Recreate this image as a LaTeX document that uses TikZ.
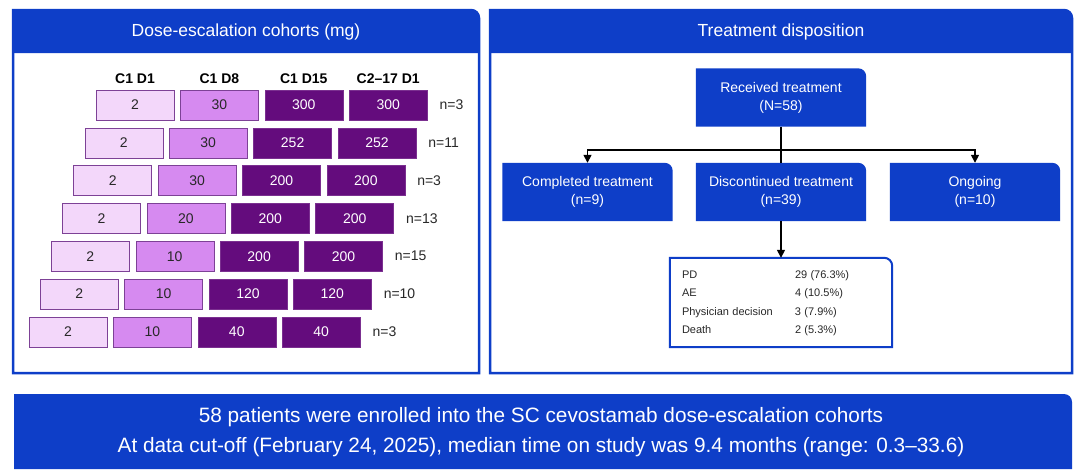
\documentclass[tikz,border=0pt]{standalone}
\usepackage{fontspec}
\setmainfont{Liberation Sans}
\usetikzlibrary{positioning,arrows.meta,backgrounds}

\definecolor{panelblue}{RGB}{14,62,200}
\definecolor{doseA}{RGB}{243,215,250}
\definecolor{doseB}{RGB}{214,138,240}
\definecolor{doseC}{RGB}{100,12,125}
\definecolor{doseline}{RGB}{125,65,150}
\definecolor{inktext}{RGB}{40,40,40}

% shape with only the top right corner rounded
\newcommand{\tabpath}[5]{\path[#1] (#2,#5) -- (#2,#3) -- ([xshift=-8pt]#4,#3) arc[start angle=90,end angle=0,radius=8pt] -- (#4,#5) -- cycle;}
\newcommand{\tabnode}[2]{\path[#2] (#1.south west) -- (#1.north west) -- ([xshift=-8pt]#1.north east) arc[start angle=90,end angle=0,radius=8pt] -- (#1.south east) -- cycle;}

\tikzset{
  doseA/.style={draw=doseline,fill=doseA,text=inktext,minimum width=78pt,minimum height=30pt,inner sep=0pt,font=\fontsize{14}{16}\selectfont},
  doseB/.style={doseA,fill=doseB},
  doseC/.style={doseA,draw=doseC!85!white,fill=doseC,text=white},
  cohortn/.style={text=inktext,inner sep=0pt,anchor=west,font=\fontsize{14}{16}\selectfont},
  colhead/.style={font=\fontsize{14}{16}\selectfont\bfseries},
  paneltitle/.style={text=white,font=\fontsize{17.5}{20}\selectfont},
  flowbox/.style={text=white,minimum width=170pt,minimum height=58pt,inner sep=0pt,align=center,font=\fontsize{14}{18}\selectfont},
  flowline/.style={line width=1.5pt},
}

\begin{document}
\begin{tikzpicture}[x=1pt,y=-1pt]
\useasboundingbox (0,0) rectangle (1080,471);

% left panel: doses
\node[paneltitle] (dtitle) at (246,32) {Dose-escalation cohorts (mg)};
\foreach \d/\e/\f/\n [count=\i from 0] in {30/300/300/3,30/252/252/11,30/200/200/3,20/200/200/13,10/200/200/15,10/120/120/10,10/40/40/3}{
  \node[doseA] (r\i-a) at ({135-11.17*\i},{105+37.8*\i}) {2};
  \node[doseB,right=6pt of r\i-a] (r\i-b) {\d};
  \node[doseC,right=6pt of r\i-b] (r\i-c) {\e};
  \node[doseC,right=6pt of r\i-c] (r\i-d) {\f};
  \node[cohortn,right=12pt of r\i-d] (n\i) {n=\n};
}
\node[colhead,above=3pt of r0-a] (h1) {C1 D1};
\node[colhead,above=3pt of r0-b] (h2) {C1 D8};
\node[colhead,above=3pt of r0-c] (h3) {C1 D15};
\node[colhead,above=3pt of r0-d] (h4) {C2--17 D1};

% right panel: disposition
\node[paneltitle] (ttitle) at (781,32) {Treatment disposition};
\node[flowbox] (recv) at (781,97.5) {Received treatment\\(N=58)};
\node[flowbox] (done) at (587.5,192) {Completed treatment\\(n=9)};
\node[flowbox] (disc) at (781,192) {Discontinued treatment\\(n=39)};
\node[flowbox] (ongo) at (975,192) {Ongoing\\(n=10)};
\node[minimum width=222pt,minimum height=89pt,inner sep=0pt,text width=198pt,align=left,text=inktext] (why) at (781,302.5)
  {\fontsize{11}{18.5}\selectfont\begin{tabular}{@{}p{113pt}@{}l@{}}
   PD & 29 (76.3\%)\\
   AE & 4 (10.5\%)\\
   Physician decision & 3 (7.9\%)\\
   Death & 2 (5.3\%)
  \end{tabular}};
\coordinate (split) at (781,150);
\draw[flowline] (recv) -- (split) -- (disc);
\draw[flowline,-{Triangle[length=8pt,width=8pt]}] (split) -| (done);
\draw[flowline,-{Triangle[length=8pt,width=8pt]}] (split) -| (ongo);
\draw[flowline,-{Triangle[length=8pt,width=8pt]}] (disc) -- (why);

% summary banner
\node[text=white,align=center,font=\fontsize{20.8}{30}\selectfont] (note) at (541,432)
  {58 patients were enrolled into the SC cevostamab dose-escalation cohorts\\
   At data cut-off (February 24, 2025), median time on study was 9.4 months (range: 0.3--33.6)};

\begin{scope}[on background layer]
  \tabpath{draw=panelblue,line width=2.5pt,fill=white}{13}{10}{479}{373}
  \tabpath{fill=panelblue}{13}{10}{479}{53}
  \tabpath{draw=panelblue,line width=2.5pt,fill=white}{490}{10}{1072}{373}
  \tabpath{fill=panelblue}{490}{10}{1072}{53}
  \tabpath{fill=panelblue}{14}{394}{1072}{469}
  \tabnode{recv}{fill=panelblue}
  \tabnode{done}{fill=panelblue}
  \tabnode{disc}{fill=panelblue}
  \tabnode{ongo}{fill=panelblue}
  \tabnode{why}{draw=panelblue,line width=2pt,fill=white}
\end{scope}
\end{tikzpicture}
\end{document}
